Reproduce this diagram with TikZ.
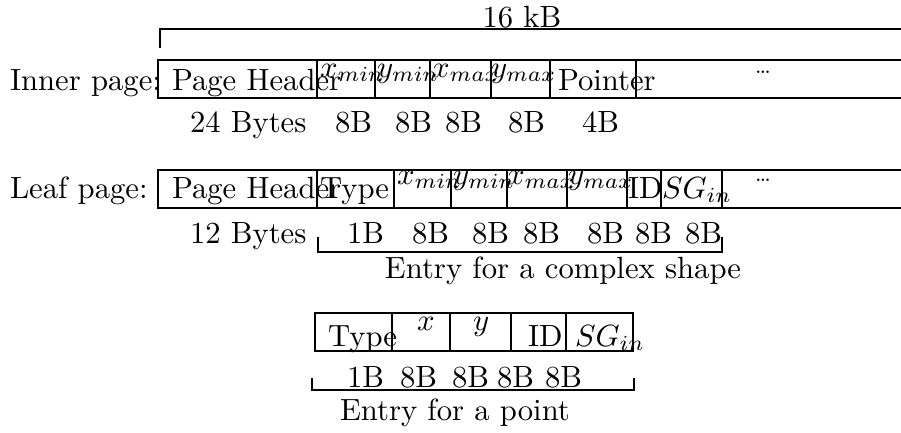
\documentclass[tikz,border=0pt]{standalone}
\begin{document}
\begin{tikzpicture}[x=0.326pt,y=-0.326pt,
  lbl/.style={anchor=base west,inner sep=0pt,outer sep=0pt},
  clbl/.style={anchor=base,inner sep=0pt,outer sep=0pt},
  dotsl/.style={inner sep=0pt,font=\scriptsize},
  box/.style={line width=0.65pt},
  brk/.style={line width=0.65pt}]
\useasboundingbox (0,0) rectangle (901,432);
% top bracket
\coordinate (tb0) at (160,48);
\coordinate (tb1) at (160,29);
\coordinate (tb2) at (905,29);
\draw[brk] (tb0) -- (tb1) -- (tb2);
\node[clbl] (kb) at (522,27) {16 kB};
% ---------- inner page ----------
\draw[box] (905,60) -- (158,60) -- (158,98) -- (905,98);
\foreach \xx in {317,375,430,491,550,636} \draw[box] (\xx,60) -- (\xx,98);
\node[lbl] (innerlbl) at (10,90) {Inner page:};
\node[lbl] (iph) at (172,90) {Page Header};
\node[lbl] (ixmin) at (320,77) {$x_{min}$};
\node[lbl] (iymin) at (377,77) {$y_{min}$};
\node[lbl] (ixmax) at (432,77) {$x_{max}$};
\node[lbl] (iymax) at (491,77) {$y_{max}$};
\node[lbl] (iptr) at (558,90) {Pointer};
\node[dotsl] (idots) at (763,72) {\ldots};
\node[lbl] (ib0) at (190,132) {24 Bytes};
\node[lbl] (ib1) at (335,132) {8B};
\node[lbl] (ib2) at (395,132) {8B};
\node[lbl] (ib3) at (445,132) {8B};
\node[lbl] (ib4) at (508,132) {8B};
\node[lbl] (ib5) at (582,132) {4B};
% ---------- leaf page ----------
\draw[box] (905,170) -- (158,170) -- (158,208) -- (905,208);
\foreach \xx in {317,394,451,507,567,627,661,722} \draw[box] (\xx,170) -- (\xx,208);
\node[lbl] (leaflbl) at (10,198) {Leaf page:};
\node[lbl] (lph) at (172,198) {Page Header};
\node[lbl] (ltype) at (320,198) {Type};
\node[lbl] (lxmin) at (397,184) {$x_{min}$};
\node[lbl] (lymin) at (453,184) {$y_{min}$};
\node[lbl] (lxmax) at (507,184) {$x_{max}$};
\node[lbl] (lymax) at (568,184) {$y_{max}$};
\node[lbl] (lid) at (628,198) {ID};
\node[lbl] (lsg) at (662,198) {$SG_{in}$};
\node[dotsl] (ldots) at (763,180) {\ldots};
\node[lbl] (lb0) at (190,243) {12 Bytes};
\node[lbl] (lb1) at (347,243) {1B};
\node[lbl] (lb2) at (412,243) {8B};
\node[lbl] (lb3) at (472,243) {8B};
\node[lbl] (lb4) at (523,243) {8B};
\node[lbl] (lb5) at (587,243) {8B};
\node[lbl] (lb6) at (635,243) {8B};
\node[lbl] (lb7) at (685,243) {8B};
\coordinate (lk0) at (318,237);
\coordinate (lk1) at (318,252);
\coordinate (lk2) at (722,252);
\coordinate (lk3) at (722,237);
\draw[brk] (lk0) -- (lk1) -- (lk2) -- (lk3);
\node[clbl] (lentry) at (563,278) {Entry for a complex shape};
% ---------- point entry ----------
\draw[box] (315,313) rectangle (633,351);
\foreach \xx in {392,450,511,566} \draw[box] (\xx,313) -- (\xx,351);
\node[lbl] (ptype) at (328,346) {Type};
\node[lbl] (px) at (417,330) {$x$};
\node[lbl] (py) at (473,330) {$y$};
\node[lbl] (pid) at (528,346) {ID};
\node[lbl] (psg) at (575,346) {$SG_{in}$};
\node[lbl] (pb1) at (347,387) {1B};
\node[lbl] (pb2) at (400,387) {8B};
\node[lbl] (pb3) at (452,387) {8B};
\node[lbl] (pb4) at (497,387) {8B};
\node[lbl] (pb5) at (545,387) {8B};
\coordinate (pk0) at (312,378);
\coordinate (pk1) at (312,390);
\coordinate (pk2) at (634,390);
\coordinate (pk3) at (634,378);
\draw[brk] (pk0) -- (pk1) -- (pk2) -- (pk3);
\node[lbl] (pentry) at (340,420) {Entry for a point};
\end{tikzpicture}
\end{document}
